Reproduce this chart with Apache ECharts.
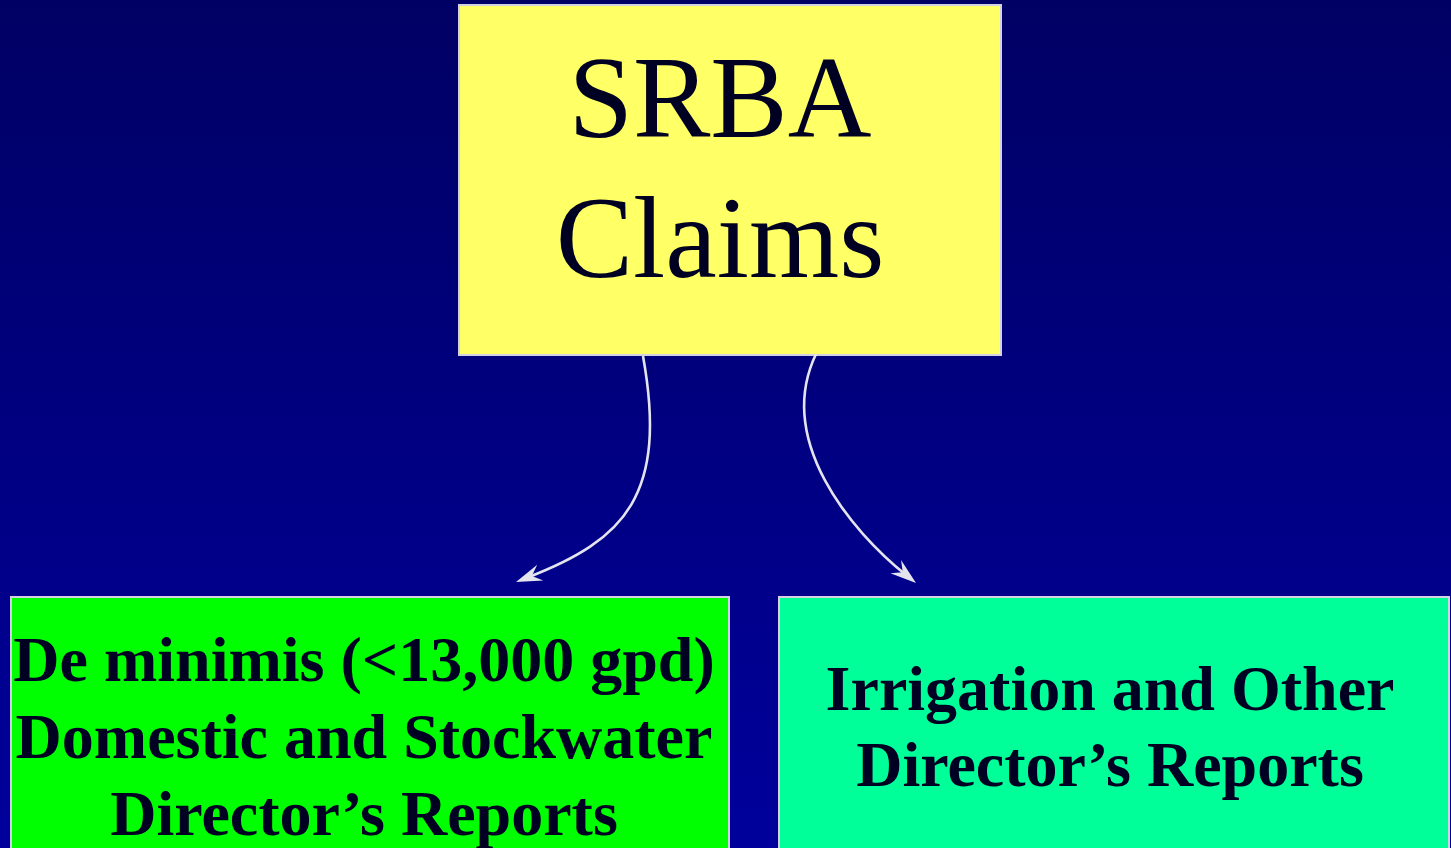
<!DOCTYPE html>
<html>
<head>
<meta charset="utf-8">
<script src="https://cdn.jsdelivr.net/npm/echarts@6/dist/echarts.min.js"></script>
<style>
html,body{margin:0;padding:0;width:1451px;height:848px;overflow:hidden;}
#chart{width:1451px;height:848px;}
</style>
</head>
<body>
<div id="chart"></div>
<script>
// Diagram nodes (diagram units = one unit per reference pixel, y downward)
var nodeNames = ['SRBA Claims', 'De minimis', 'Irrigation'];
var nodeLines = [
  ['SRBA', 'Claims'],
  ['De minimis (<13,000 gpd)', 'Domestic and Stockwater', 'Director\u2019s Reports'],
  ['Irrigation and Other', 'Director\u2019s Reports']
];
var nodeLeft   = [459, 11, 779];
var nodeTop    = [5, 597, 597];
var nodeRight  = [1001, 729, 1449];
var nodeBottom = [355, 860, 860];
var nodeTextX  = [720, 364, 1110];
var nodeBaselines = [[140, 280], [683, 760, 837], [712, 788]];
var nodeFills  = ['#ffff66', '#00ff00', '#00ff99'];

// Curved arrows: start, control 1, control 2, end (tip)
var arrowFrom = [0, 0];
var arrowTo   = [1, 2];
var arrowStart = [[643, 356], [816, 354]];
var arrowCtrl1 = [[668, 495], [775, 440]];
var arrowCtrl2 = [[625, 540], [850, 530]];
var arrowEnd   = [[516, 582], [916, 583]];

var chart = echarts.init(document.getElementById('chart'), null, {renderer: 'canvas'});
var boxData = nodeNames.map(function (n, i) { return [i]; });
var arrowData = arrowFrom.map(function (f, i) { return [i]; });

var option = {
  backgroundColor: {
    type: 'linear', x: 0, y: 0, x2: 0, y2: 1,
    colorStops: [{offset: 0, color: '#000064'}, {offset: 1, color: '#00009c'}]
  },
  animation: false,
  grid: {left: 0, right: 0, top: 0, bottom: 0},
  xAxis: {type: 'value', min: 0, max: 1451, show: false},
  yAxis: {type: 'value', min: 0, max: 848, inverse: true, show: false},
  series: [
    {
      type: 'custom',
      name: 'nodes',
      data: boxData,
      clip: false,
      renderItem: function (params, api) {
        var i = api.value(0);
        var p0 = api.coord([nodeLeft[i], nodeTop[i]]);
        var p1 = api.coord([nodeRight[i], nodeBottom[i]]);
        var bold = i > 0;
        var fs = bold ? 64 : 116;
        var children = [{
          type: 'rect',
          shape: {x: p0[0], y: p0[1], width: p1[0] - p0[0], height: p1[1] - p0[1]},
          style: {fill: nodeFills[i], stroke: '#d2d2e4', lineWidth: 2}
        }];
        nodeLines[i].forEach(function (line, k) {
          var pt = api.coord([nodeTextX[i], nodeBaselines[i][k]]);
          children.push({
            type: 'text',
            style: {
              text: line,
              x: pt[0],
              y: pt[1] - 0.29 * fs,
              align: 'center',
              verticalAlign: 'middle',
              fill: '#000022',
              font: (bold ? 'bold ' : '') + fs + 'px "Liberation Serif", "Times New Roman", serif'
            }
          });
        });
        return {type: 'group', children: children};
      }
    },
    {
      type: 'custom',
      name: 'arrows',
      data: arrowData,
      clip: false,
      z: 3,
      renderItem: function (params, api) {
        var i = api.value(0);
        var s = api.coord(arrowStart[i]);
        var c1 = api.coord(arrowCtrl1[i]);
        var c2 = api.coord(arrowCtrl2[i]);
        var e = api.coord(arrowEnd[i]);
        var dx = e[0] - c2[0], dy = e[1] - c2[1];
        var len = Math.sqrt(dx * dx + dy * dy);
        var ux = dx / len, uy = dy / len;
        var nx = -uy, ny = ux;
        var L = 26, W = 8.5, notch = 17;
        var back = [e[0] - ux * L, e[1] - uy * L];
        var wing1 = [back[0] + nx * W, back[1] + ny * W];
        var wing2 = [back[0] - nx * W, back[1] - ny * W];
        var nt = [e[0] - ux * notch, e[1] - uy * notch];
        var lineEnd = [e[0] - ux * 12, e[1] - uy * 12];
        return {
          type: 'group',
          children: [
            {
              type: 'bezierCurve',
              shape: {x1: s[0], y1: s[1], cpx1: c1[0], cpy1: c1[1], cpx2: c2[0], cpy2: c2[1], x2: lineEnd[0], y2: lineEnd[1]},
              style: {stroke: '#e4e4ee', lineWidth: 2.6, fill: null}
            },
            {
              type: 'polygon',
              shape: {points: [e, wing1, nt, wing2]},
              style: {fill: '#e4e4ee', stroke: null}
            }
          ]
        };
      }
    }
  ]
};
chart.setOption(option);
</script>
</body>
</html>
